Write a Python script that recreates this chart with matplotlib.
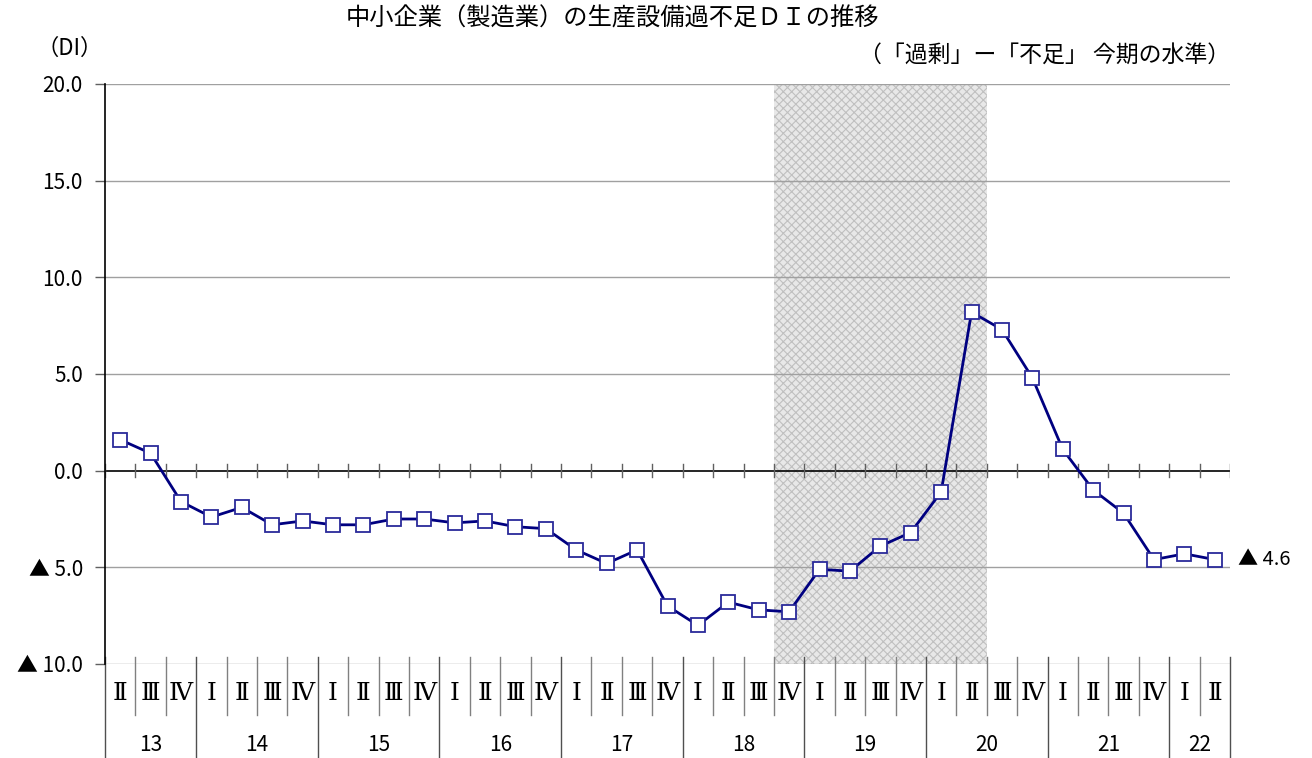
import matplotlib
matplotlib.use("Agg")
import matplotlib.pyplot as plt
import matplotlib.transforms as mtransforms

plt.rcParams['font.family'] = ['Noto Sans CJK JP', 'DejaVu Sans']
plt.rcParams['hatch.linewidth'] = 0.8

quarters = ['Ⅱ', 'Ⅲ', 'Ⅳ'] + ['Ⅰ', 'Ⅱ', 'Ⅲ', 'Ⅳ'] * 8 + ['Ⅰ', 'Ⅱ']
years = ['13', '14', '15', '16', '17', '18', '19', '20', '21', '22']
year_counts = [3, 4, 4, 4, 4, 4, 4, 4, 4, 2]
di = [1.6, 0.9, -1.6, -2.4, -1.9, -2.8, -2.6, -2.8, -2.8, -2.5, -2.5,
      -2.7, -2.6, -2.9, -3.0, -4.1, -4.8, -4.1, -7.0, -8.0, -6.8, -7.2,
      -7.3, -5.1, -5.2, -3.9, -3.2, -1.1, 8.2, 7.3, 4.8, 1.1, -1.0, -2.2,
      -4.6, -4.3, -4.6]
shade_from, shade_to = 22, 28   # 18 IV .. 20 II
ytick_vals = [-10, -5, 0, 5, 10, 15, 20]
ytick_labels = ['▲ 10.0', '▲ 5.0', '0.0', '5.0', '10.0', '15.0', '20.0']

n = len(di)
x = list(range(n))

fig = plt.figure(figsize=(13.12, 7.58), dpi=100)
ax = fig.add_axes([105 / 1312, 1 - 664 / 758, 1125 / 1312, 580 / 758])
ax.set_xlim(-0.5, n - 0.5)
ax.set_ylim(-10, 20)

# shaded period
ax.axvspan(shade_from - 0.5, shade_to + 0.5, facecolor='#e8e8e8', edgecolor='#c0c0c0',
           hatch='xxxx', linewidth=0, zorder=0)

# gridlines
for v in ytick_vals:
    if v != 0:
        ax.axhline(v, color='#a0a0a0', linewidth=1.0, zorder=1)
ax.axhline(0, color='black', linewidth=1.2, zorder=2)

# ticks crossing the zero line
for k in range(n + 1):
    ax.plot([k - 0.5, k - 0.5], [-0.35, 0.35], color='#606060', linewidth=1.0, zorder=2)

ax.plot(x, di, color='#000080', linewidth=2.0, marker='s', markersize=10,
        markerfacecolor='white', markeredgecolor='#2a2a9a', markeredgewidth=1.3, zorder=5)

for s in ['top', 'right', 'bottom']:
    ax.spines[s].set_visible(False)
ax.spines['left'].set_color('black')
ax.spines['left'].set_linewidth(1.2)

ax.set_xticks([])
ax.set_yticks(ytick_vals)
ax.set_yticklabels(ytick_labels, fontsize=15)
ax.tick_params(axis='y', length=7, width=1, color='#606060', pad=9)

# category table under the plot
trans = mtransforms.blended_transform_factory(ax.transData, ax.transAxes)
year_starts = [0]
for c in year_counts:
    year_starts.append(year_starts[-1] + c)
for k in range(n + 1):
    b = k - 0.5
    if k in year_starts:
        ax.plot([b, b], [0.012, -0.17], color='#505050', linewidth=1.0,
                transform=trans, clip_on=False)
    else:
        ax.plot([b, b], [0.012, -0.088], color='#808080', linewidth=1.0,
                transform=trans, clip_on=False)
for i, q in enumerate(quarters):
    ax.text(i, -0.05, q, transform=trans, ha='center', va='center', fontsize=18,
            family=['DejaVu Serif', 'Noto Sans CJK JP'])
for j, yr in enumerate(years):
    c = (year_starts[j] + year_starts[j + 1] - 1) / 2
    ax.text(c, -0.14, yr, transform=trans, ha='center', va='center', fontsize=15)

# texts
fig.text(612 / 1312, 1 - 19 / 758, '中小企業（製造業）の生産設備過不足ＤＩの推移',
         ha='center', va='center', fontsize=17.5)
fig.text(36 / 1312, 1 - 48 / 758, '（DI）', ha='left', va='center', fontsize=16)
fig.text(1230 / 1312, 1 - 55 / 758, '（「過剰」ー「不足」 今期の水準）',
         ha='right', va='center', fontsize=16.5)
ax.text(n - 0.5 + 0.25, di[-1], '▲ 4.6', ha='left', va='center', fontsize=14.5,
        clip_on=False)

fig.savefig('out.png', dpi=100)
